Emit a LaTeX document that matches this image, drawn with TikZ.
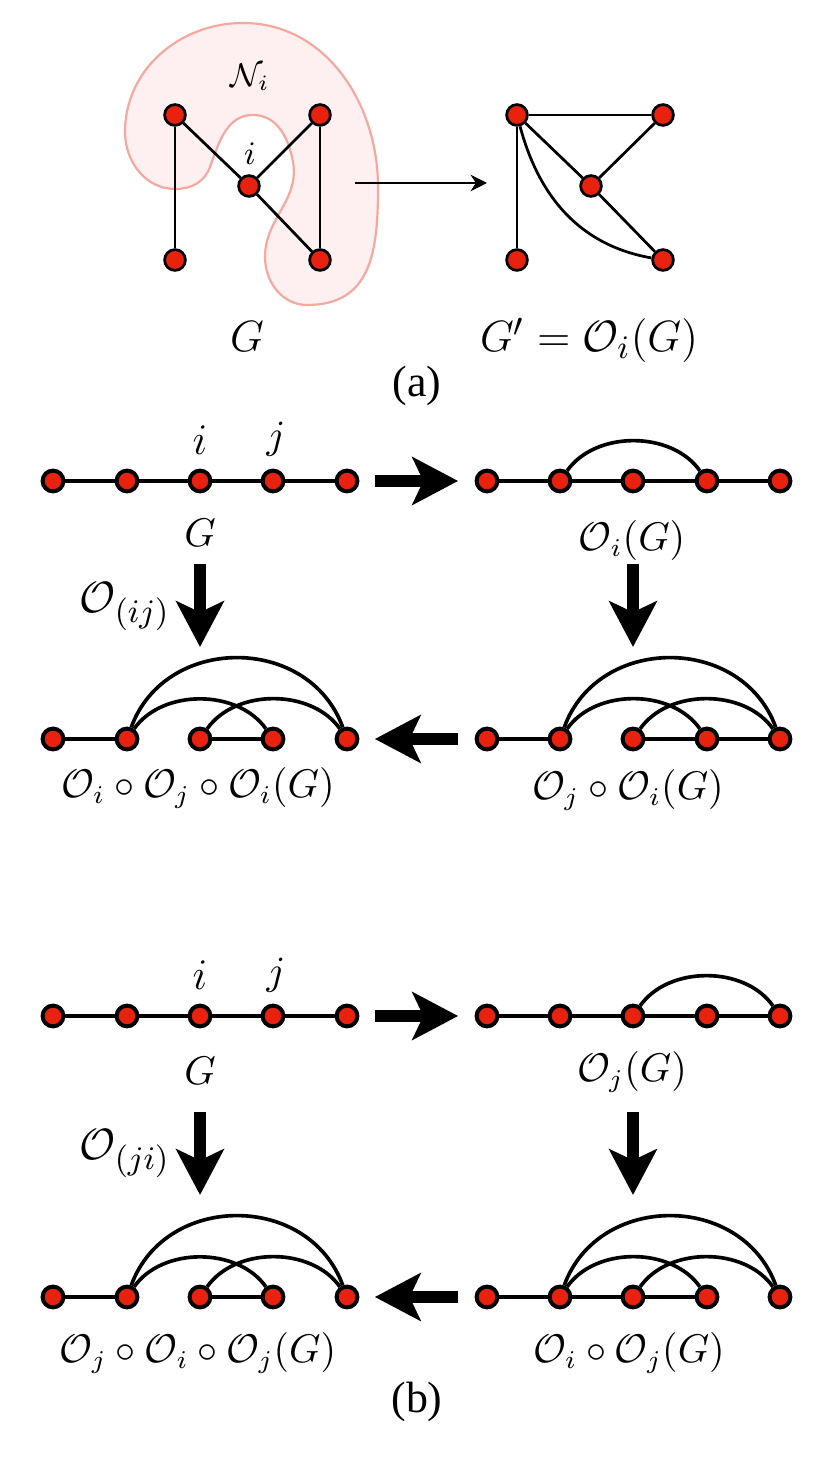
\documentclass[tikz,border=0pt]{standalone}
\usepackage{fontspec}
\newfontfamily\capfont{Liberation Serif}
\usetikzlibrary{arrows.meta}
\definecolor{red500} {HTML}{E8220F}
\definecolor{pink100}{HTML}{FEF0F0}
\definecolor{pink300}{HTML}{F6A89F}
\tikzset{
  vtxa/.style   ={circle, draw=black, fill=red500, line width=0.75pt,
                  minimum size=0.2cm, inner sep=0pt},
  vtx/.style    ={circle, draw=black, fill=red500, line width=1.1pt,
                  minimum size=0.2cm, inner sep=0pt},
  linka/.style  ={draw=black, line width=0.75pt},
  link/.style   ={draw=black, line width=1pt},
  arcbig/.style ={link, out=70, in=110, looseness=1.2},
  arcsmall/.style={link, out=55, in=125, looseness=0.95},
  ar/.style     ={-{Stealth[length=4.5pt,width=4.5pt]}, line width=0.8pt},
  bigar/.style  ={-{Stealth[length=12.5pt,width=13pt,inset=3pt]},
                  line width=3.5pt},
  lbl/.style    ={inner sep=0pt, anchor=base,
                  font=\fontsize{10.5}{12}\selectfont},
  lblbig/.style ={lbl, font=\fontsize{13}{15}\selectfont},
  lblsm/.style  ={lbl, font=\fontsize{9}{11}\selectfont},
  sublabel/.style={inner sep=0pt, anchor=base,
                  font=\capfont\fontsize{12}{14}\selectfont},
  hood/.style   ={draw=pink300, fill=pink100, line width=0.6pt}
}

\begin{document}
\begin{tikzpicture}[x=0.9627cm, y=0.9627cm]
\useasboundingbox (0,0) rectangle (8.31,14.62);
% (a) neighbourhood of i, then the graph before and after
\path[hood] (2.43,14.39) to[out=0, in=90] (3.78,12.75)
  to[out=-90, in=0, looseness=1.2] (3.07,11.57)
  to[out=180, in=-90] (2.65,12.05)
  to[out=90, in=-80] (2.93,13.00)
  to[out=100, in=0] (2.53,13.47)
  to[out=180, in=70] (2.10,12.95)
  to[out=-110, in=0] (1.75,12.73)
  to[out=180, in=-90] (1.25,13.30)
  to[out=90, in=180] (2.43,14.39) -- cycle;
\node[vtxa] (n1) at (1.75,13.47) {};
\node[vtxa] (n2) at (3.20,13.47) {};
\node[vtxa] (ni) at (2.49,12.76) {};
\node[vtxa] (n3) at (1.75,12.02) {};
\node[vtxa] (n4) at (3.20,12.02) {};
\draw[linka] (n1) -- (n3);
\draw[linka] (n1) -- (ni);
\draw[linka] (ni) -- (n2);
\draw[linka] (n2) -- (n4);
\draw[linka] (ni) -- (n4);
\node[lblsm] (lN) at (2.50,13.75) {$\mathcal{N}_i$};
\node[lblsm] (li) at (2.50,12.97) {$i$};

\node[vtxa] (m1) at (5.17,13.47) {};
\node[vtxa] (m2) at (6.63,13.47) {};
\node[vtxa] (mi) at (5.91,12.76) {};
\node[vtxa] (m3) at (5.17,12.02) {};
\node[vtxa] (m4) at (6.63,12.02) {};
\draw[linka] (m1) -- (m2);
\draw[linka] (m1) -- (m3);
\draw[linka] (m1) -- (mi);
\draw[linka] (mi) -- (m2);
\draw[linka] (mi) -- (m4);
\draw[linka] (m1) to[out=-75, in=170] (m4);

\coordinate (aS) at (3.55,12.79);
\coordinate (aE) at (4.87,12.79);
\draw[ar] (aS) -- (aE);
\node[lblbig] (lGa) at (2.47,11.10) {$G$};
\node[lblbig] (lGb) at (5.89,11.10) {$G' = \mathcal{O}_i(G)$};
\node[sublabel] (capa) at (4.17,10.65) {(a)};

% (b) first i then j: rows of five vertices
\node[vtx] (p1) at (0.53,9.81) {}; \node[vtx] (p2) at (1.27,9.81) {};
\node[vtx] (p3) at (2.00,9.81) {}; \node[vtx] (p4) at (2.73,9.81) {};
\node[vtx] (p5) at (3.47,9.81) {};
\draw[link] (p1) -- (p2) -- (p3) -- (p4) -- (p5);
\node[lblbig] (lpi) at (2.00,10.07) {$i$};
\node[lbl]    (lpj) at (2.76,10.13) {$j$};
\node[lbl]    (lpG) at (2.00,9.15) {$G$};

\node[vtx] (q1) at (4.87,9.81) {}; \node[vtx] (q2) at (5.60,9.81) {};
\node[vtx] (q3) at (6.33,9.81) {}; \node[vtx] (q4) at (7.07,9.81) {};
\node[vtx] (q5) at (7.80,9.81) {};
\draw[link] (q1) -- (q2) -- (q3) -- (q4) -- (q5);
\draw[arcsmall] (q2) to (q4);
\node[lbl] (lq) at (6.32,9.11) {$\mathcal{O}_i(G)$};

\node[vtx] (r1) at (4.87,7.23) {}; \node[vtx] (r2) at (5.60,7.23) {};
\node[vtx] (r3) at (6.33,7.23) {}; \node[vtx] (r4) at (7.07,7.23) {};
\node[vtx] (r5) at (7.80,7.23) {};
\draw[link] (r1) -- (r2);
\draw[link] (r3) -- (r4) -- (r5);
\draw[arcbig] (r2) to (r5);
\draw[arcsmall] (r2) to (r4);
\draw[arcsmall] (r3) to (r5);
\node[lbl] (lr) at (6.28,6.62) {$\mathcal{O}_j \circ \mathcal{O}_i(G)$};

\node[vtx] (s1) at (0.53,7.23) {}; \node[vtx] (s2) at (1.27,7.23) {};
\node[vtx] (s3) at (2.00,7.23) {}; \node[vtx] (s4) at (2.73,7.23) {};
\node[vtx] (s5) at (3.47,7.23) {};
\draw[link] (s1) -- (s2);
\draw[link] (s3) -- (s4);
\draw[arcbig] (s2) to (s5);
\draw[arcsmall] (s2) to (s4);
\draw[arcsmall] (s3) to (s5);
\node[lbl] (ls) at (1.98,6.64)
  {$\mathcal{O}_i \circ \mathcal{O}_j \circ \mathcal{O}_i(G)$};

\draw[bigar, shorten <=0.149cm, shorten >=0.159cm] (p5) -- (q1);
\draw[bigar, shorten <=0.159cm, shorten >=0.149cm] (r1) -- (s5);
\coordinate (d1s) at (2.00,8.98); \coordinate (d1e) at (2.00,8.15);
\coordinate (d2s) at (6.33,8.98); \coordinate (d2e) at (6.33,8.15);
\draw[bigar] (d1s) -- (d1e);
\draw[bigar] (d2s) -- (d2e);
\node[lblbig] (lOij) at (1.25,8.49) {$\mathcal{O}_{(ij)}$};

% (b) first j then i
\node[vtx] (t1) at (0.53,4.46) {}; \node[vtx] (t2) at (1.27,4.46) {};
\node[vtx] (t3) at (2.00,4.46) {}; \node[vtx] (t4) at (2.73,4.46) {};
\node[vtx] (t5) at (3.47,4.46) {};
\draw[link] (t1) -- (t2) -- (t3) -- (t4) -- (t5);
\node[lblbig] (lti) at (2.00,4.72) {$i$};
\node[lbl]    (ltj) at (2.76,4.77) {$j$};
\node[lbl]    (ltG) at (2.00,3.77) {$G$};

\node[vtx] (u1) at (4.87,4.46) {}; \node[vtx] (u2) at (5.60,4.46) {};
\node[vtx] (u3) at (6.33,4.46) {}; \node[vtx] (u4) at (7.07,4.46) {};
\node[vtx] (u5) at (7.80,4.46) {};
\draw[link] (u1) -- (u2) -- (u3) -- (u4) -- (u5);
\draw[arcsmall] (u3) to (u5);
\node[lbl] (lu) at (6.32,3.80) {$\mathcal{O}_j(G)$};

\node[vtx] (v1) at (4.87,1.65) {}; \node[vtx] (v2) at (5.60,1.65) {};
\node[vtx] (v3) at (6.33,1.65) {}; \node[vtx] (v4) at (7.07,1.65) {};
\node[vtx] (v5) at (7.80,1.65) {};
\draw[link] (v1) -- (v2) -- (v3) -- (v4);
\draw[arcbig] (v2) to (v5);
\draw[arcsmall] (v2) to (v4);
\draw[arcsmall] (v3) to (v5);
\node[lbl] (lv) at (6.29,0.99) {$\mathcal{O}_i \circ \mathcal{O}_j(G)$};

\node[vtx] (w1) at (0.53,1.65) {}; \node[vtx] (w2) at (1.27,1.65) {};
\node[vtx] (w3) at (2.00,1.65) {}; \node[vtx] (w4) at (2.73,1.65) {};
\node[vtx] (w5) at (3.47,1.65) {};
\draw[link] (w1) -- (w2);
\draw[link] (w3) -- (w4);
\draw[arcbig] (w2) to (w5);
\draw[arcsmall] (w2) to (w4);
\draw[arcsmall] (w3) to (w5);
\node[lbl] (lw) at (1.98,0.99)
  {$\mathcal{O}_j \circ \mathcal{O}_i \circ \mathcal{O}_j(G)$};

\draw[bigar, shorten <=0.149cm, shorten >=0.159cm] (t5) -- (u1);
\draw[bigar, shorten <=0.159cm, shorten >=0.149cm] (v1) -- (w5);
\coordinate (d3s) at (2.00,3.50); \coordinate (d3e) at (2.00,2.67);
\coordinate (d4s) at (6.33,3.50); \coordinate (d4e) at (6.33,2.67);
\draw[bigar] (d3s) -- (d3e);
\draw[bigar] (d4s) -- (d4e);
\node[lblbig] (lOji) at (1.25,3.02) {$\mathcal{O}_{(ji)}$};
\node[sublabel] (capb) at (4.17,0.49) {(b)};
\end{tikzpicture}
\end{document}
